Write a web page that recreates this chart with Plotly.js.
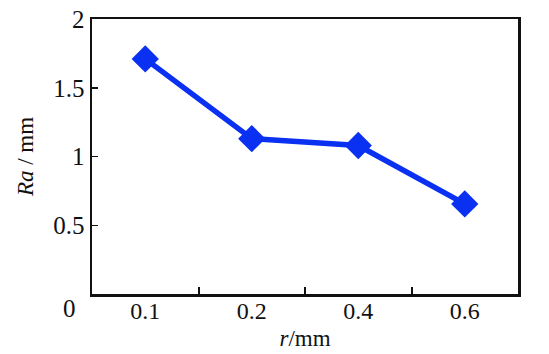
<!DOCTYPE html>
<html>
<head>
<meta charset="utf-8">
<script src="https://cdn.plot.ly/plotly-3.0.1.min.js"></script>
<style>html,body{margin:0;padding:0;background:#fff;}#chart{width:549px;height:354px;}</style>
</head>
<body>
<div id="chart"></div>
<script>
const categories = ['0.1', '0.2', '0.4', '0.6'];
const raValues = [1.71, 1.13, 1.08, 0.655];
const yTickVals = [0.5, 1, 1.5, 2];
const yTickText = ['0.5', '1', '1.5', '2'];

const serif = 'Liberation Serif';
const blue = '#0a30f2';

const trace = {
  x: categories,
  y: raValues,
  type: 'scatter',
  mode: 'lines+markers',
  line: {color: blue, width: 5.5},
  marker: {symbol: 'diamond', size: 21, color: blue},
  cliponaxis: false,
  hoverinfo: 'skip'
};

const layout = {
  width: 549,
  height: 354,
  margin: {l: 92, r: 31, t: 19, b: 60},
  paper_bgcolor: '#fff',
  plot_bgcolor: '#fff',
  showlegend: false,
  font: {family: serif, size: 25, color: '#111'},
  xaxis: {
    type: 'category',
    categoryorder: 'array',
    categoryarray: categories,
    range: [-0.5, 3.5],
    tickson: 'boundaries',
    ticks: 'inside',
    ticklen: 7,
    tickwidth: 2,
    tickcolor: '#111',
    showline: true,
    linecolor: '#111',
    linewidth: 2.5,
    mirror: true,
    showgrid: false,
    zeroline: false,
    ticklabelstandoff: -6,
    tickfont: {family: serif, size: 24, color: '#111'},
    title: {text: '<i>r</i>/mm', font: {family: serif, size: 23, color: '#111'}, standoff: 7}
  },
  yaxis: {
    range: [0, 2],
    tickvals: yTickVals,
    ticktext: yTickText,
    ticks: 'inside',
    ticklen: 6,
    tickwidth: 1.5,
    tickcolor: '#111',
    showline: true,
    linecolor: '#111',
    linewidth: 2.5,
    mirror: true,
    showgrid: false,
    zeroline: false,
    tickfont: {family: serif, size: 25, color: '#111'},
    title: {text: '<i>Ra</i> / mm', font: {family: serif, size: 23, color: '#111'}, standoff: 13}
  },
  annotations: [{
    text: '0',
    xref: 'paper', yref: 'paper',
    x: 0, y: 0,
    xanchor: 'right', yanchor: 'top',
    xshift: -14, yshift: 1,
    showarrow: false,
    font: {family: serif, size: 25, color: '#111'}
  }]
};

Plotly.newPlot('chart', [trace], layout, {staticPlot: true, displayModeBar: false});
</script>
</body>
</html>
